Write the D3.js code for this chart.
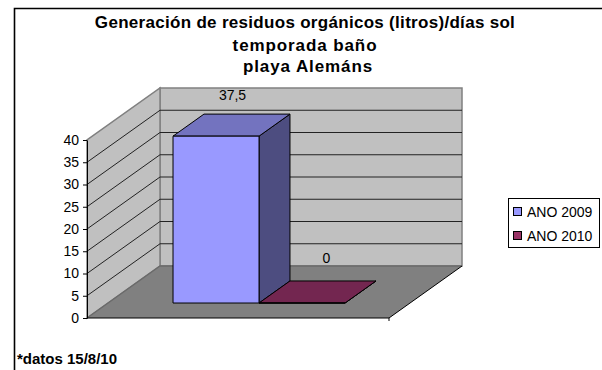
<!DOCTYPE html>
<html>
<head>
<meta charset="utf-8">
<script src="https://cdn.jsdelivr.net/npm/d3@7"></script>
<style>
  html, body { margin: 0; padding: 0; background: #fff; }
  svg { display: block; }
  text { font-family: "Liberation Sans", Arial, sans-serif; fill: #000; }
</style>
</head>
<body>
<div id="chart"></div>
<script>
const titleLines = ["Generación de residuos orgánicos (litros)/días sol", "temporada baño", "playa Alemáns"];
const seriesNames = ["ANO 2009", "ANO 2010"];
const seriesValues = [37.5, 0];
const valueLabels = ["37,5", "0"];
const seriesColors = ["#9999ff", "#993366"];
const topColors = ["#7373bf", "#732650"];
const sideColors = ["#4d4d80", "#4d1a33"];
const yTicks = [0, 5, 10, 15, 20, 25, 30, 35, 40];
const footnote = "*datos 15/8/10";

const config = {
    width: 602,
    height: 370,
    plotLeft: 87,
    plotRight: 389,
    depthX: 73,
    depthY: -52,
    barGap: 65,
    barNear: 0.288,
    barFar: 0.712,
    labelDx: [1, 9],
    labelDy: [-25, -29],
    titleSpacing: [0.3, 0.9, 0.9],
    titleX: [305, 305, 308],
    titleY: [28, 51, 72]
};

const svg = d3.select("#chart")
    .append("svg")
    .attr("width", config.width)
    .attr("height", config.height);

const yScale = d3.scaleLinear()
    .domain([0, 40])
    .range([318, 140]);

const xScale = d3.scaleBand()
    .domain(seriesNames)
    .range([config.plotLeft + config.barGap, config.plotRight - config.barGap]);

// x is along the front edge, y is data value, z is 0 (front) to 1 (back)
const project = function(x, value, z) {
    return [x + z * config.depthX, yScale(value) + z * config.depthY];
};

const poly = function(points) {
    return points.map(p => project(p[0], p[1], p[2]).join(",")).join(" ");
};

// outer chart border
svg.append("path")
    .attr("d", "M14.5,370V8.5H602")
    .attr("fill", "none")
    .attr("stroke", "#000")
    .attr("stroke-width", 1.6);

const title = svg.append("text")
    .attr("text-anchor", "middle")
    .style("font-size", "17px")
    .style("font-weight", "bold");

title.selectAll("tspan")
    .data(titleLines)
    .enter().append("tspan")
    .attr("x", (d, i) => config.titleX[i])
    .attr("y", (d, i) => config.titleY[i])
    .style("letter-spacing", (d, i) => config.titleSpacing[i] + "px")
    .text(d => d);

const L = config.plotLeft, R = config.plotRight;

// back wall, side wall, floor
svg.append("polygon")
    .attr("points", poly([[L, 0, 1], [R, 0, 1], [R, 40, 1], [L, 40, 1]]))
    .attr("fill", "#c0c0c0")
    .attr("stroke", "#808080")
    .attr("stroke-width", 1.5);

svg.append("polygon")
    .attr("points", poly([[L, 0, 0], [L, 0, 1], [L, 40, 1], [L, 40, 0]]))
    .attr("fill", "#c0c0c0")
    .attr("stroke", "#808080")
    .attr("stroke-width", 1.5);

svg.append("polygon")
    .attr("points", poly([[L, 0, 0], [R, 0, 0], [R, 0, 1], [L, 0, 1]]))
    .attr("fill", "#808080");

// gridlines
const grid = svg.append("g");
yTicks.filter(d => d > 0 && d < 40).forEach(d => {
    const a = project(L, d, 0), b = project(L, d, 1), c = project(R, d, 1);
    grid.append("polyline")
        .attr("points", [a, b, c].map(p => p.join(",")).join(" "))
        .attr("fill", "none")
        .attr("stroke", "#222")
        .attr("stroke-width", 1);
});

// wall base, floor edges
svg.append("polyline")
    .attr("points", poly([[L, 0, 0], [L, 0, 1], [R, 0, 1]]))
    .attr("fill", "none")
    .attr("stroke", "#6a6a6a")
    .attr("stroke-width", 1.5);

svg.append("polyline")
    .attr("points", poly([[R, 0, 0], [R, 0, 1]]))
    .attr("fill", "none")
    .attr("stroke", "#000");

// y axis and the front floor edge
svg.append("g")
    .attr("transform", "translate(" + L + ",0)")
    .call(d3.axisLeft(yScale).tickValues(yTicks).tickSize(4).tickSizeOuter(0).tickPadding(4))
    .call(g => g.selectAll("text").style("font-size", "14px").style("font-family", "'Liberation Sans', Arial, sans-serif").attr("fill", "#000"))
    .call(g => g.selectAll(".domain,line").attr("stroke", "#000"));

svg.append("line")
    .attr("x1", L).attr("x2", R)
    .attr("y1", yScale(0)).attr("y2", yScale(0))
    .attr("stroke", "#000")
    .attr("stroke-width", 1.2);

svg.append("line")
    .attr("x1", R).attr("x2", R)
    .attr("y1", yScale(0)).attr("y2", yScale(0) + 3)
    .attr("stroke", "#000");

// bars
const barGroups = svg.append("g")
    .selectAll("g")
    .data(seriesNames)
    .enter().append("g")
    .attr("stroke", "#000")
    .attr("stroke-width", 1);

const zn = config.barNear, zf = config.barFar;

barGroups.append("polygon")
    .attr("points", (d, i) => {
        const x1 = xScale(d) + xScale.bandwidth(), v = seriesValues[i];
        return poly([[x1, 0, zn], [x1, 0, zf], [x1, v, zf], [x1, v, zn]]);
    })
    .attr("fill", (d, i) => sideColors[i]);

barGroups.append("polygon")
    .attr("points", (d, i) => {
        const x0 = xScale(d), x1 = x0 + xScale.bandwidth(), v = seriesValues[i];
        return poly([[x0, v, zn], [x1, v, zn], [x1, v, zf], [x0, v, zf]]);
    })
    .attr("fill", (d, i) => topColors[i]);

barGroups.append("polygon")
    .attr("points", (d, i) => {
        const x0 = xScale(d), x1 = x0 + xScale.bandwidth(), v = seriesValues[i];
        return poly([[x0, 0, zn], [x1, 0, zn], [x1, v, zn], [x0, v, zn]]);
    })
    .attr("fill", (d, i) => seriesColors[i]);

// value labels
svg.append("g")
    .selectAll("text")
    .data(seriesNames)
    .enter().append("text")
    .attr("text-anchor", "middle")
    .style("font-size", "14px")
    .attr("x", (d, i) => project(xScale(d) + xScale.bandwidth() / 2, 0, 0.5)[0] + config.labelDx[i])
    .attr("y", (d, i) => project(0, seriesValues[i], 0.5)[1] + config.labelDy[i])
    .text((d, i) => valueLabels[i]);

// legend
const legend = svg.append("g");

legend.append("rect")
    .attr("x", 508.5).attr("y", 198.5)
    .attr("width", 91).attr("height", 49)
    .attr("fill", "#fff")
    .attr("stroke", "#000");

const legendRows = legend.selectAll("g")
    .data(seriesNames)
    .enter().append("g")
    .attr("transform", (d, i) => "translate(513," + (212 + i * 24) + ")");

legendRows.append("rect")
    .attr("x", 0.5).attr("y", -4.5)
    .attr("width", 8).attr("height", 8)
    .attr("fill", (d, i) => seriesColors[i])
    .attr("stroke", "#000");

legendRows.append("text")
    .attr("x", 14)
    .attr("y", 5)
    .style("font-size", "14px")
    .text(d => d);

svg.append("text")
    .attr("x", 17)
    .attr("y", 364)
    .style("font-size", "15px")
    .style("font-weight", "bold")
    .text(footnote);
</script>
</body>
</html>
